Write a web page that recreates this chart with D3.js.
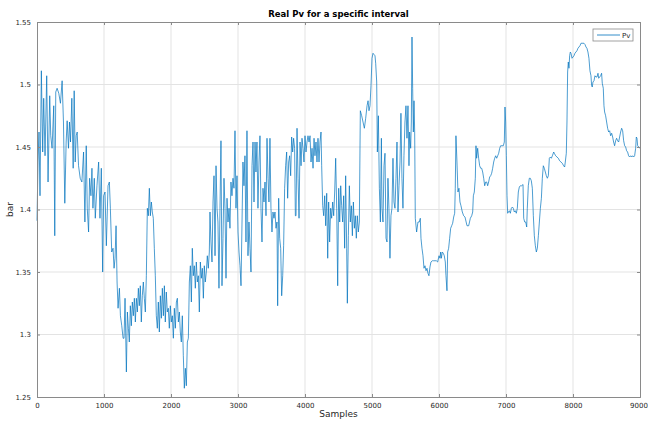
<!DOCTYPE html>
<html><head><meta charset="utf-8">
<script src="https://cdn.jsdelivr.net/npm/d3@7"></script>
<style>body{margin:0;background:#fff}svg{display:block}</style>
</head><body><svg id="c" width="648" height="421"></svg>
<script>
const title = "Real Pv for a specific interval";
const xLabel = "Samples";
const yLabel = "bar";
const seriesName = "Pv";
const xTicks = [0,1000,2000,3000,4000,5000,6000,7000,8000,9000];
const yTicks = [1.25,1.3,1.35,1.4,1.45,1.5,1.55];
const yTickLabels = ["1.25","1.3","1.35","1.4","1.45","1.5","1.55"];

const samples = [0,15,30,45,65,85,100,120,145,165,190,205,225,250,265,280,300,325,350,375,395,415,435,450,470,485,500,520,540,555,570,585,600,620,645,670,695,715,735,750,770,785,805,820,835,855,870,895,920,940,960,980,995,1015,1035,1060,1080,1095,1115,1135,1150,1165,1180,1195,1210,1230,1245,1265,1285,
1299,1314,1334,1349,1364,1378,1393,1408,1423,1438,1453,1468,1483,1498,1513,1527,1542,1557,1572,1587,1602,1617,1632,1647,1662,1677,1692,1707,1721,1736,1751,1766,1781,1796,1811,1826,1841,1856,1871,1886,1901,1915,1930,1945,1960,1975,1990,2005,2020,2035,2050,2065,2080,2095,2110,2125,2139,2154,2169,2184,2199,2214,2229,2244,2259,2274,2289,2304,2318,2333,2348,2363,2378,2393,2408,2423,2438,2453,2468,2483,2497,2512,2527,2542,2557,2572,
2582,2597,2612,2627,2642,2657,2672,2687,2701,2716,2731,2746,2761,2776,2791,2806,2821,2836,2851,2866,2880,2895,2910,2925,2940,2955,2970,2985,3000,3015,3030,3045,3060,3074,3089,3104,3119,3134,3149,3164,3179,3194,3209,3224,3239,3254,3268,3283,3298,3313,3328,3343,3358,3373,3388,3403,3418,3433,3448,3462,3477,3492,3507,3522,3537,3552,3567,3582,3592,3607,3622,3637,3652,3667,3681,3696,3711,3726,3741,3756,3771,3786,3801,3816,3830,3845,
3856,3866,3881,3896,3911,3926,3941,3955,3970,3985,4000,4015,4030,4045,4060,4075,4090,4105,4120,4135,4149,4164,4179,4194,4209,4224,4239,4249,4264,4279,4294,4309,4324,4339,4353,4368,4383,4398,4413,4428,4443,4458,4473,4488,4503,4518,4533,4547,4562,4577,4592,4607,4622,4632,4647,4662,4677,4692,4707,4722,4737,4751,4766,4781,4796,4811,4826,4846,4866,4886,4906,4926,4941,4955,4970,4985,5000,5015,5030,5045,5055,5070,5080,5095,5110,5125,
5140,5149,5164,5179,5194,5209,5224,5238,5253,5268,5283,5298,5313,5328,5343,5358,5373,5388,5403,5418,5432,5447,5462,5477,5492,5507,5522,5537,5552,5562,5577,5587,5597,5607,5617,5627,5637,5646,5666,5686,5706,5721,5731,5746,5761,5776,5791,5806,5821,5835,5850,5865,5880,5900,5920,5940,5960,5980,6000,6015,6025,6035,6049,6064,6079,6094,6104,6119,6129,6144,6159,6174,6189,6204,6219,6234,6243,6253,6268,6283,6298,6313,6328,6348,6368,6388,
6418,6443,6468,6488,6503,6513,6527,6542,6552,6562,6577,6592,6607,6622,6637,6652,6667,6682,6697,6712,6726,6741,6756,6771,6786,6801,6816,6831,6846,6861,6876,6891,6906,6920,6940,6960,6975,6985,6995,7005,7015,7025,7035,7050,7065,7080,7095,7109,7124,7139,7154,7169,7184,7199,7214,7234,7254,7264,7279,7294,7309,7318,7333,7348,7363,7378,7393,7408,7423,7438,7453,7468,7483,7498,7513,7528,7542,7557,7572,7587,7602,7617,7632,7647,7662,7677,7692,
7712,7721,7741,7761,7781,7800,7820,7840,7860,7875,7885,7900,7910,7920,7930,7940,7950,7960,7970,7985,8000,8014,8029,8044,8059,8074,8089,8104,8119,8134,8149,8164,8179,8194,8208,8223,8238,8253,8268,8278,8288,8298,8313,8328,8343,8358,8373,8383,8398,8412,8427,8437,8452,8462,8472,8487,8502,8517,8532,8547,8562,8577,8592,8606,8621,8636,8651,8666,8681,8696,8711,8726,8741,8756,8771,8786,8800,8815,8830,8845,8860,8875,8890,8905,8920,8935,8945,8955,8965,8980,9000];

const pv = [1.391,1.438,1.462,1.411,1.511,1.446,1.489,1.443,1.507,1.422,1.491,1.459,1.449,1.483,1.379,1.494,1.497,1.493,1.485,1.503,1.47,1.405,1.454,1.471,1.449,1.47,1.454,1.489,1.433,1.495,1.438,1.459,1.462,1.435,1.425,1.422,1.446,1.39,1.451,1.401,1.382,1.425,1.411,1.433,1.401,1.425,1.393,1.419,1.438,1.393,1.433,1.35,1.411,1.414,1.371,1.419,1.422,1.401,1.366,1.369,1.353,1.361,1.387,1.342,1.321,1.337,1.315,1.307,1.297,
1.297,1.329,1.27,1.318,1.305,1.294,1.323,1.307,1.326,1.315,1.329,1.31,1.329,1.318,1.337,1.323,1.339,1.31,1.331,1.342,1.329,1.318,1.347,1.401,1.395,1.417,1.395,1.406,1.398,1.393,1.369,1.347,1.315,1.305,1.326,1.302,1.331,1.313,1.337,1.315,1.339,1.31,1.334,1.318,1.321,1.305,1.323,1.31,1.315,1.297,1.321,1.305,1.326,1.329,1.31,1.318,1.302,1.294,1.315,1.283,1.257,1.273,1.259,1.294,1.297,1.342,1.355,1.326,1.369,1.347,1.355,1.337,1.358,1.342,1.347,1.318,1.358,1.345,1.353,1.329,1.355,1.342,1.35,1.363,1.353,1.366,
1.398,1.374,1.358,1.406,1.427,1.363,1.435,1.401,1.39,1.337,1.401,1.455,1.339,1.377,1.425,1.401,1.345,1.409,1.39,1.401,1.385,1.422,1.411,1.425,1.417,1.463,1.401,1.427,1.382,1.366,1.355,1.339,1.39,1.438,1.419,1.443,1.374,1.463,1.363,1.39,1.369,1.35,1.435,1.454,1.406,1.454,1.43,1.454,1.401,1.438,1.459,1.401,1.374,1.417,1.406,1.422,1.395,1.457,1.425,1.406,1.457,1.401,1.382,1.398,1.393,1.398,1.385,1.39,1.323,1.409,1.377,1.369,1.331,1.347,1.371,1.417,1.435,1.446,1.409,1.438,1.443,1.427,1.458,1.446,1.457,1.449,
1.395,1.395,1.465,1.425,1.393,1.454,1.435,1.457,1.449,1.438,1.459,1.446,1.454,1.459,1.454,1.459,1.438,1.449,1.433,1.457,1.443,1.454,1.438,1.457,1.438,1.454,1.462,1.435,1.403,1.395,1.411,1.387,1.413,1.361,1.406,1.374,1.401,1.393,1.406,1.395,1.414,1.441,1.401,1.339,1.417,1.39,1.419,1.403,1.39,1.411,1.369,1.427,1.369,1.325,1.379,1.419,1.39,1.403,1.379,1.406,1.385,1.395,1.377,1.395,1.382,1.39,1.479,1.475,1.47,1.465,1.473,1.483,1.487,1.479,1.483,1.499,1.521,1.525,1.524,1.523,1.517,1.502,1.446,1.475,1.417,1.39,
1.457,1.401,1.39,1.435,1.445,1.377,1.374,1.425,1.401,1.361,1.395,1.401,1.441,1.406,1.401,1.425,1.454,1.398,1.419,1.438,1.477,1.425,1.401,1.443,1.47,1.483,1.457,1.483,1.435,1.462,1.449,1.47,1.538,1.497,1.462,1.487,1.462,1.393,1.382,1.39,1.39,1.393,1.377,1.369,1.363,1.353,1.355,1.351,1.353,1.349,1.347,1.354,1.358,1.359,1.359,1.359,1.359,1.358,1.363,1.361,1.366,1.361,1.366,1.365,1.363,1.358,1.347,1.335,1.366,1.369,1.377,1.385,1.387,1.389,1.394,1.397,1.417,1.459,1.438,1.414,1.417,1.406,1.403,1.398,1.395,1.394,
1.387,1.387,1.393,1.395,1.398,1.411,1.414,1.425,1.451,1.441,1.449,1.441,1.435,1.433,1.433,1.43,1.425,1.419,1.422,1.422,1.419,1.422,1.426,1.427,1.429,1.433,1.438,1.441,1.443,1.441,1.443,1.445,1.449,1.451,1.451,1.451,1.454,1.482,1.47,1.443,1.411,1.397,1.398,1.399,1.397,1.401,1.402,1.401,1.398,1.399,1.397,1.401,1.414,1.418,1.419,1.419,1.42,1.393,1.39,1.39,1.386,1.401,1.419,1.425,1.425,1.423,1.417,1.395,1.379,1.371,1.366,1.369,1.379,1.39,1.401,1.409,1.425,1.435,1.433,1.43,1.427,1.425,1.427,1.441,1.442,1.441,1.443,
1.446,1.445,1.443,1.442,1.441,1.439,1.438,1.437,1.435,1.434,1.438,1.445,1.47,1.51,1.518,1.513,1.523,1.526,1.525,1.521,1.522,1.523,1.525,1.526,1.527,1.529,1.53,1.531,1.533,1.533,1.533,1.533,1.532,1.53,1.529,1.526,1.521,1.511,1.507,1.499,1.498,1.502,1.503,1.507,1.506,1.506,1.509,1.505,1.506,1.507,1.509,1.501,1.497,1.483,1.478,1.475,1.47,1.465,1.462,1.463,1.459,1.461,1.458,1.454,1.451,1.455,1.457,1.455,1.454,1.458,1.462,1.465,1.463,1.455,1.451,1.45,1.447,1.446,1.443,1.442,1.443,1.442,1.443,1.442,1.443,1.449,1.458,1.457,1.451,1.45,1.449];

const W = 648, H = 421;
const m = {l:37, r:8, t:22, b:24};
const svg = d3.select("#c");
const x = d3.scaleLinear().domain([0,9000]).range([m.l, W-m.r]);
const y = d3.scaleLinear().domain([1.25,1.55]).range([H-m.b, m.t]);
const font = "DejaVu Sans, sans-serif";
const axisCol = "#8a8a8a", txtCol = "#262626";

// grid
const g = svg.append("g");
g.selectAll(".gx").data(xTicks.slice(1,-1)).enter().append("line")
  .attr("x1", d=>x(d)).attr("x2", d=>x(d)).attr("y1", y(1.25)).attr("y2", y(1.55))
  .attr("stroke", "#e3e3e3").attr("stroke-width", 1);
g.selectAll(".gy").data(yTicks.slice(1,-1)).enter().append("line")
  .attr("y1", d=>y(d)).attr("y2", d=>y(d)).attr("x1", x(0)).attr("x2", x(9000))
  .attr("stroke", "#e3e3e3").attr("stroke-width", 1);

// line
const data = samples.map((s,i)=>[s,pv[i]]);
svg.append("path").datum(data)
  .attr("d", d3.line().x(d=>x(d[0])).y(d=>y(d[1])))
  .attr("fill","none").attr("stroke","#0072BD").attr("stroke-width",0.7)
  .attr("stroke-linejoin","round");

// axes
const ax = d3.axisBottom(x).tickValues(xTicks).tickSize(-3).tickPadding(6).tickFormat(d3.format("d"));
const axT = d3.axisTop(x).tickValues(xTicks).tickSize(-3).tickFormat("");
const ay = d3.axisLeft(y).tickValues(yTicks).tickSize(-3).tickPadding(6).tickFormat((d,i)=>yTickLabels[i]);
const ayR = d3.axisRight(y).tickValues(yTicks).tickSize(-3).tickFormat("");
function style(sel){
  sel.select(".domain").attr("stroke", axisCol);
  sel.selectAll(".tick line").attr("stroke", axisCol);
  sel.selectAll("text").attr("fill", txtCol).style("font-family", font).style("font-size","7px");
}
const gxb = svg.append("g").attr("transform",`translate(0,${y(1.25)})`).call(ax).call(style);
gxb.selectAll(".tick text").filter(d=>d===9000).attr("dx", -1.5);
svg.append("g").attr("transform",`translate(0,${y(1.55)})`).call(axT).call(style);
svg.append("g").attr("transform",`translate(${x(0)},0)`).call(ay).call(style);
svg.append("g").attr("transform",`translate(${x(9000)},0)`).call(ayR).call(style);

// title & labels
svg.append("text").attr("x",(x(0)+x(9000))/2).attr("y",17).attr("text-anchor","middle")
  .style("font-family",font).style("font-size","8.5px").style("font-weight","bold").attr("fill","#000").text(title);
svg.append("text").attr("x",(x(0)+x(9000))/2).attr("y",417).attr("text-anchor","middle")
  .style("font-family",font).style("font-size","9px").attr("fill",txtCol).text(xLabel);
svg.append("text").attr("transform",`translate(13,${(y(1.25)+y(1.55))/2}) rotate(-90)`).attr("text-anchor","middle")
  .style("font-family",font).style("font-size","9px").attr("fill",txtCol).text(yLabel);

// legend
const lg = svg.append("g");
lg.append("rect").attr("x",593).attr("y",29).attr("width",40).attr("height",12)
  .attr("fill","#fff").attr("stroke",axisCol).attr("stroke-width",0.8);
lg.append("line").attr("x1",597).attr("x2",620).attr("y1",35).attr("y2",35)
  .attr("stroke","#0072BD").attr("stroke-width",0.8);
lg.append("text").attr("x",622).attr("y",38).style("font-family",font).style("font-size","7px").attr("fill",txtCol).text(seriesName);
</script></body></html>
